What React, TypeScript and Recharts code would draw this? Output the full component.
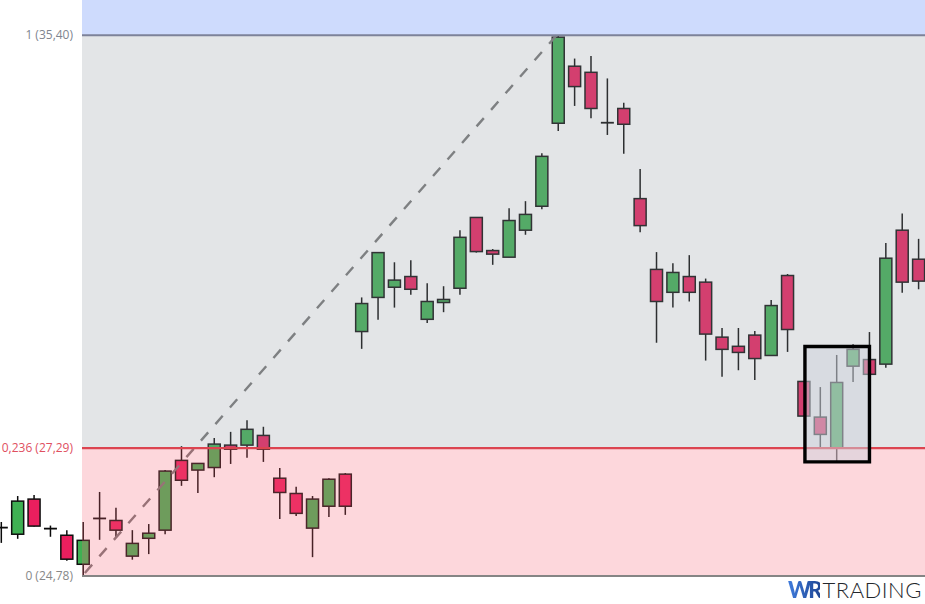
import {
  Bar,
  ComposedChart,
  Label,
  ReferenceArea,
  ReferenceLine,
  XAxis,
  YAxis,
} from "recharts";

const opens = [
  25.73, 25.6, 26.29, 25.71, 25.58, 25.01, 25.91, 25.87, 25.17, 25.52,
  25.68, 27.05, 26.86, 26.91, 27.35, 27.35, 27.54, 26.7, 26.4, 25.72,
  26.15, 26.78, 29.58, 30.25, 30.45, 30.66, 29.82, 30.15, 30.43, 31.82,
  31.17, 31.04, 31.57, 32.04, 33.67, 34.79, 34.67, 33.68, 33.96, 32.19,
  30.8, 30.35, 30.66, 30.55, 29.47, 29.29, 29.51, 29.11, 30.68, 28.6,
  27.9, 27.29, 28.9, 29.03, 28.94, 31.57, 31.0,
];
const closes = [
  25.73, 26.25, 25.76, 25.71, 25.11, 25.48, 25.91, 25.68, 25.42, 25.62,
  26.84, 26.66, 26.99, 27.37, 27.27, 27.66, 27.27, 26.42, 26.01, 26.29,
  26.68, 26.15, 30.13, 31.13, 30.59, 30.41, 30.17, 30.21, 31.43, 31.15,
  31.1, 31.76, 31.88, 33.02, 35.36, 34.39, 33.96, 33.68, 33.65, 31.66,
  30.17, 30.74, 30.35, 29.53, 29.23, 29.17, 29.05, 30.09, 29.62, 27.92,
  27.56, 28.58, 29.23, 28.74, 31.02, 30.55, 30.57,
];
const highs = [
  25.84, 26.35, 26.37, 25.77, 25.68, 25.84, 26.43, 26.12, 25.68, 25.8,
  26.86, 27.33, 26.99, 27.49, 27.61, 27.84, 27.71, 26.9, 26.53, 26.35,
  26.7, 26.8, 30.25, 31.13, 30.94, 30.98, 30.53, 30.47, 31.57, 31.82,
  31.2, 32.0, 32.14, 33.08, 35.4, 34.94, 34.99, 34.55, 34.07, 32.77,
  31.14, 30.92, 31.08, 30.62, 29.65, 29.65, 29.59, 30.2, 30.71, 28.6,
  28.49, 29.12, 29.33, 29.57, 31.32, 31.9, 31.4,
];
const lows = [
  25.43, 25.51, 25.75, 25.55, 25.08, 24.8, 25.49, 25.54, 25.1, 25.21,
  25.6, 26.55, 26.41, 26.72, 26.98, 27.1, 27.02, 25.9, 25.96, 25.15,
  25.94, 25.98, 29.24, 29.81, 30.05, 30.3, 29.75, 29.96, 30.3, 31.13,
  30.89, 31.04, 31.48, 31.98, 33.52, 34.01, 33.77, 33.44, 33.07, 31.53,
  29.36, 30.05, 30.17, 29.01, 28.69, 28.82, 28.63, 29.11, 29.18, 27.92,
  27.31, 27.04, 28.59, 28.74, 28.87, 30.34, 30.41,
];

const fibHigh = 35.4;
const fibMid = 27.29;
const fibLow = 24.78;
const fibLabels = ["1 (35,40)", "0,236 (27,29)", "0 (24,78)"];

const priceRange = [24.23, 36.09];
const indexRange = [-0.061, 56.41];
const fibStart = 4.945;
const trendFrom = { x: 5.12, y: 24.84 };
const trendTo = { x: 33.92, y: 35.4 };
const highlightX = [49.08, 53.02];
const highlightY = [27.02, 29.285];

const data = opens.map((open, i) => ({
  index: i,
  open,
  close: closes[i],
  high: highs[i],
  low: lows[i],
}));

function Candle(props: any) {
  const { x, y, width, height, payload } = props;
  const { open, close, high, low } = payload;
  const cx = x + width / 2;
  const toY = (v: number) => y + ((high - v) / (high - low)) * height;
  const top = toY(Math.max(open, close));
  const bottom = toY(Math.min(open, close));
  const isDoji = open === close;
  const fill = close > open ? "#3fb053" : "#ea1f5e";
  return (
    <g>
      <line x1={cx} x2={cx} y1={y} y2={y + height} stroke="#0a0a0a" strokeWidth={1.5} />
      {isDoji ? (
        <line x1={x} x2={x + width} y1={top} y2={top} stroke="#0a0a0a" strokeWidth={1.8} />
      ) : (
        <rect
          x={x + 0.5}
          y={top}
          width={width - 1}
          height={bottom - top}
          fill={fill}
          stroke="#0f0f0f"
          strokeWidth={1.5}
        />
      )}
    </g>
  );
}

function FibLabel({ viewBox, text, color }: any) {
  return (
    <text
      x={73}
      y={viewBox.y + 4}
      textAnchor="end"
      fontFamily="'Open Sans', sans-serif"
      fontSize={12}
      fill={color}
    >
      {text}
    </text>
  );
}

export default function App() {
  return (
    <div style={{ position: "absolute", left: 0, top: 0, width: 925, height: 604, overflow: "hidden", background: "#fff" }}>
      <ComposedChart width={925} height={604} data={data} margin={{ top: 0, right: 0, left: 0, bottom: 0 }}>
        <XAxis dataKey="index" type="number" domain={indexRange} allowDataOverflow hide />
        <YAxis type="number" domain={priceRange} allowDataOverflow hide width={0} />
        <ReferenceLine
          segment={[trendFrom, trendTo]}
          stroke="#777"
          strokeWidth={2.4}
          strokeDasharray="11 11"
        />
        <Bar
          dataKey={(d: any) => [d.low, d.high]}
          barSize={13}
          shape={Candle}
          isAnimationActive={false}
          zIndex={300}
        />
        <ReferenceArea
          x1={fibStart}
          x2={indexRange[1]}
          y1={fibHigh}
          y2={priceRange[1]}
          fill="#4273f7"
          fillOpacity={0.26}
          stroke="none"
          zIndex={400}
        />
        <ReferenceArea
          x1={fibStart}
          x2={indexRange[1]}
          y1={fibMid}
          y2={fibHigh}
          fill="#939ba3"
          fillOpacity={0.26}
          stroke="none"
          zIndex={400}
        />
        <ReferenceArea
          x1={fibStart}
          x2={indexRange[1]}
          y1={fibLow}
          y2={fibMid}
          fill="#f76676"
          fillOpacity={0.26}
          stroke="none"
          zIndex={400}
        />
        <ReferenceArea
          x1={highlightX[0]}
          x2={highlightX[1]}
          y1={highlightY[0]}
          y2={highlightY[1]}
          fill="#cdd1db"
          fillOpacity={0.5}
          stroke="#000"
          strokeWidth={3.4}
          zIndex={500}
        />
        <ReferenceLine
          segment={[{ x: fibStart, y: fibHigh }, { x: indexRange[1], y: fibHigh }]}
          stroke="#7d8299"
          strokeWidth={2}
          zIndex={450}
        >
          <Label content={<FibLabel text={fibLabels[0]} color="#808590" />} />
        </ReferenceLine>
        <ReferenceLine
          segment={[{ x: fibStart, y: fibMid }, { x: indexRange[1], y: fibMid }]}
          stroke="#dc4450"
          strokeWidth={2.4}
          zIndex={450}
        >
          <Label content={<FibLabel text={fibLabels[1]} color="#e0505f" />} />
        </ReferenceLine>
        <ReferenceLine
          segment={[{ x: fibStart, y: fibLow }, { x: indexRange[1], y: fibLow }]}
          stroke="#858585"
          strokeWidth={2}
          zIndex={450}
        >
          <Label content={<FibLabel text={fibLabels[2]} color="#888" />} />
        </ReferenceLine>
      </ComposedChart>
      <div
        style={{
          position: "absolute",
          left: 788,
          top: 578,
          fontFamily: "Lato, sans-serif",
          fontSize: 22,
          fontWeight: 300,
          lineHeight: "24px",
          whiteSpace: "nowrap",
          color: "#23262c",
          letterSpacing: 0.5,
        }}
      >
        <span
          style={{
            fontWeight: 900,
            letterSpacing: -3,
            marginRight: 3,
            background: "linear-gradient(90deg, #3f7bdc, #1f4795)",
            WebkitBackgroundClip: "text",
            backgroundClip: "text",
            color: "transparent",
          }}
        >
          WR
        </span>
        TRADING
      </div>
    </div>
  );
}
